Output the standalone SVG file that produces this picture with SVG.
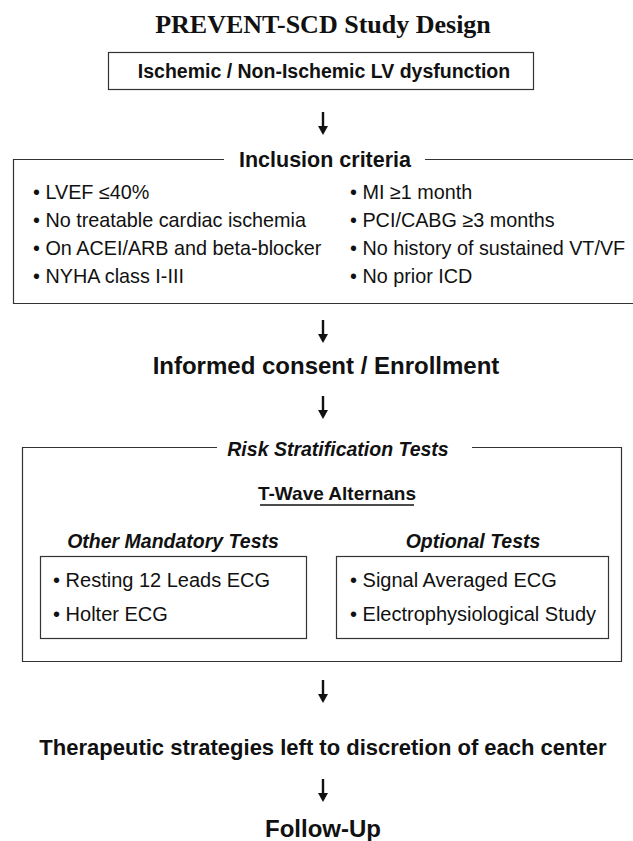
<svg xmlns="http://www.w3.org/2000/svg" width="633" height="841" viewBox="0 0 633 841">
<defs>
<style>
.t{font-family:"Liberation Sans",Arial,sans-serif;fill:#111}
.b{font-weight:bold}
.i{font-style:italic}
.frame{fill:none;stroke:#333;stroke-width:1.2}
.stem{stroke:#111;stroke-width:2.4}
.head{fill:#111}
</style>
</defs>
<rect width="633" height="841" fill="#fff"/>
<text id="title" x="323" y="33" text-anchor="middle" font-family="'Liberation Serif','Times New Roman',serif" font-weight="bold" font-size="26" fill="#111">PREVENT-SCD Study Design</text>

<g id="n-population">
<rect class="frame" x="108.5" y="52.5" width="425" height="37"/>
<text class="t b" x="324" y="78" text-anchor="middle" font-size="19.5">Ischemic / Non-Ischemic LV dysfunction</text>
</g>

<g id="n-inclusion">
<path class="frame" d="M224 159.5H13.5V303.5H633M425 159.5H633"/>
<text class="t b" x="325" y="167" text-anchor="middle" font-size="21.5">Inclusion criteria</text>
<g class="t" font-size="19.8">
<text x="33" y="199">• LVEF ≤40%</text>
<text x="33" y="227">• No treatable cardiac ischemia</text>
<text x="33" y="255">• On ACEI/ARB and beta-blocker</text>
<text x="33" y="283">• NYHA class I-III</text>
<text x="350" y="199">• MI ≥1 month</text>
<text x="350" y="227">• PCI/CABG ≥3 months</text>
<text x="350" y="255">• No history of sustained VT/VF</text>
<text x="350" y="283">• No prior ICD</text>
</g>
</g>

<g id="n-consent">
<text class="t b" x="326" y="374" text-anchor="middle" font-size="24">Informed consent / Enrollment</text>
</g>

<g id="n-risk">
<path class="frame" d="M217 447.5H22.5V661.5H621.5V447.5H472"/>
<text class="t b i" x="338" y="456" text-anchor="middle" font-size="19.5">Risk Stratification Tests</text>
<text class="t b" x="337" y="500" text-anchor="middle" font-size="19">T-Wave Alternans</text>
<line x1="260" y1="505" x2="414" y2="505" stroke="#111" stroke-width="1.6"/>
</g>

<g id="n-mandatory">
<text class="t b i" x="173" y="548" text-anchor="middle" font-size="19.5">Other Mandatory Tests</text>
<rect class="frame" x="40.5" y="556.5" width="266" height="82"/>
<g class="t" font-size="20">
<text x="53" y="587">• Resting 12 Leads ECG</text>
<text x="53" y="621">• Holter ECG</text>
</g>
</g>

<g id="n-optional">
<text class="t b i" x="473" y="548" text-anchor="middle" font-size="19.5">Optional Tests</text>
<rect class="frame" x="336.5" y="556.5" width="272" height="82"/>
<g class="t" font-size="20">
<text x="350" y="587">• Signal Averaged ECG</text>
<text x="350" y="621">• Electrophysiological Study</text>
</g>
</g>

<g id="n-therapy">
<text class="t b" x="323" y="755" text-anchor="middle" font-size="22">Therapeutic strategies left to discretion of each center</text>
</g>

<g id="n-followup">
<text class="t b" x="323" y="837" text-anchor="middle" font-size="24">Follow-Up</text>
</g>

<g id="connectors">
<line class="stem" x1="323" y1="112" x2="323" y2="127"/>
<path class="head" d="M318 126L328 126L323 135Z"/>
<line class="stem" x1="323" y1="320" x2="323" y2="335"/>
<path class="head" d="M318 334L328 334L323 343Z"/>
<line class="stem" x1="323" y1="396" x2="323" y2="411"/>
<path class="head" d="M318 410L328 410L323 419Z"/>
<line class="stem" x1="323" y1="680" x2="323" y2="695"/>
<path class="head" d="M318 694L328 694L323 703Z"/>
<line class="stem" x1="323" y1="779" x2="323" y2="794"/>
<path class="head" d="M318 793L328 793L323 802Z"/>
</g>
</svg>
